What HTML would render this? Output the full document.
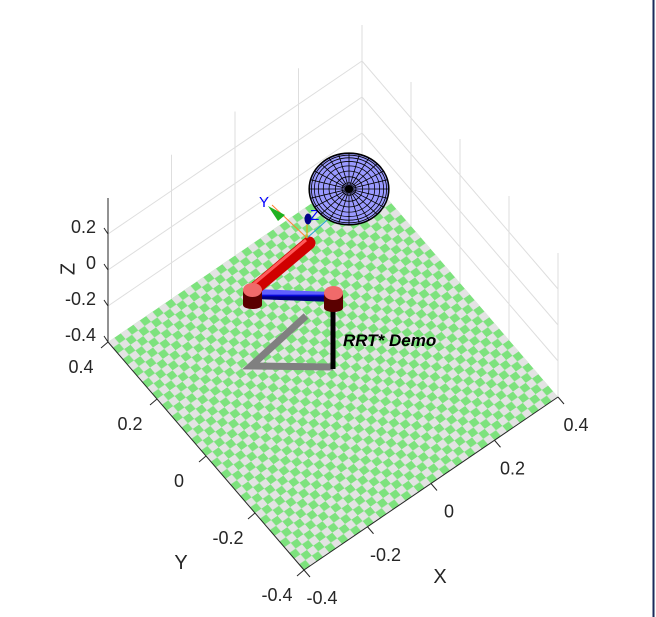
<!DOCTYPE html>
<html><head><meta charset="utf-8"><style>
html,body{margin:0;padding:0;background:#fff;}
svg{display:block;font-family:"Liberation Sans",Arial,sans-serif;}
</style></head><body>
<svg id="plot" width="656" height="617" viewBox="0 0 656 617" xmlns="http://www.w3.org/2000/svg">
<defs>
<pattern id="chk" patternUnits="userSpaceOnUse" width="0.05" height="0.05">
<rect width="0.05" height="0.05" fill="#e3e3e3"/>
<rect width="0.025" height="0.025" fill="#7de27d"/>
<rect x="0.025" y="0.025" width="0.025" height="0.025" fill="#7de27d"/>
</pattern>
<linearGradient id="blueg" x1="0" y1="0" x2="0" y2="1"><stop offset="0" stop-color="#6060ff"/><stop offset="0.5" stop-color="#0000e0"/><stop offset="1" stop-color="#000080"/></linearGradient>
</defs>
<g id="grid"></g>
<g id="floor" transform="matrix(254,-173,-196,-228,304,570)">
<rect x="0" y="0" width="1" height="1" fill="url(#chk)"/>
</g>
<g id="axes"></g>
<g>
<polyline points="306,316 251,366 333,367" fill="none" stroke="#808080" stroke-width="7" stroke-linejoin="miter"/>
<line x1="333" y1="300" x2="333" y2="369" stroke="#000" stroke-width="5"/>
<line x1="253" y1="294" x2="333" y2="297" stroke="url(#blueg)" stroke-width="10"/>
<line x1="252" y1="291" x2="309" y2="243" stroke="#d00000" stroke-width="13" stroke-linecap="round"/>
<line x1="250" y1="287" x2="306" y2="240" stroke="#ff5a5a" stroke-width="3"/>
<g>
<rect x="243" y="291" width="19" height="14" fill="#5a0000"/>
<ellipse cx="252.5" cy="305" rx="9.5" ry="4" fill="#5a0000"/>
<ellipse cx="252.5" cy="290" rx="9.5" ry="7" fill="#f06a6a"/>
</g>
<g>
<rect x="324" y="294" width="19" height="14" fill="#5a0000"/>
<ellipse cx="333.5" cy="308" rx="9.5" ry="4" fill="#5a0000"/>
<ellipse cx="333.5" cy="293" rx="9.5" ry="7" fill="#f06a6a"/>
</g>
<g>
<line x1="307" y1="238" x2="272" y2="205" stroke="#ff8030" stroke-width="1"/>
<line x1="307" y1="238" x2="344" y2="205" stroke="#20a0d0" stroke-width="1"/>
<line x1="307" y1="238" x2="307" y2="222" stroke="#f0a000" stroke-width="1"/>
<polygon points="268,206 285,215 278,221" fill="#20b020"/>
<polygon points="350,200 336,210 341,216" fill="#e00000"/>
<ellipse cx="308" cy="219" rx="3.5" ry="5.5" fill="#00008a"/>
<text x="259" y="207" fill="#0000ff" font-size="15">Y</text>
<text x="310" y="220" fill="#0000ff" font-size="15">Z</text>
</g>
</g>
<g id="sphere"></g>
<text x="343" y="346" font-size="17" font-weight="bold" font-style="italic" fill="#000">RRT* Demo</text>
<line x1="653.5" y1="0" x2="653.5" y2="617" stroke="#1a2a5a" stroke-width="2"/>
</svg>
<script>
const zTicks=[-0.4,-0.2,0,0.2];
const zTickLabels=["-0.4","-0.2","0","0.2"];
const xTicks=[-0.4,-0.2,0,0.2,0.4];
const xTickLabels=["-0.4","-0.2","0","0.2","0.4"];
const yTicks=[-0.4,-0.2,0,0.2,0.4];
const yTickLabels=["-0.4","-0.2","0","0.2","0.4"];
const gridVals=[-0.2,0,0.2];
const NS="http://www.w3.org/2000/svg";
function P(x,y,z){const u=(x+0.4)/0.8,v=(y+0.4)/0.8;return [304+254*u-196*v,570-173*u-228*v-(z+0.4)*180];}
function L(g,a,b,c,w,name){const l=document.createElementNS(NS,'line');l.setAttribute('x1',a[0]);l.setAttribute('y1',a[1]);l.setAttribute('x2',b[0]);l.setAttribute('y2',b[1]);l.setAttribute('stroke',c);l.setAttribute('stroke-width',w);


g.appendChild(l);}
function T(g,x,y,s,anchor,name,size){const t=document.createElementNS(NS,'text');t.setAttribute('x',x);t.setAttribute('y',y);t.setAttribute('font-size',size||18);t.setAttribute('fill','#262626');t.setAttribute('text-anchor',anchor);t.textContent=s;


g.appendChild(t);return t;}
const grid=document.getElementById('grid'),axes=document.getElementById('axes');
const gc='#dedede';
[-0.4,-0.2,0,0.2,0.4].forEach(v=>{L(grid,P(v,0.4,-0.4),P(v,0.4,0.4),gc,1,'grid-line');L(grid,P(0.4,v,-0.4),P(0.4,v,0.4),gc,1,'grid-line');});
gridVals.forEach(z=>{L(grid,P(-0.4,0.4,z),P(0.4,0.4,z),gc,1,'grid-line');L(grid,P(0.4,0.4,z),P(0.4,-0.4,z),gc,1,'grid-line');});
const ac='#262626';
L(axes,P(-0.4,0.4,-0.4),P(-0.4,0.4,0.4),ac,1,'z-axis-line');
zTicks.forEach((z,i)=>{const p=P(-0.4,0.4,z);L(axes,p,[p[0]-4,p[1]-6],ac,1,'z-tick');T(axes,p[0]-12,p[1]-1,zTickLabels[i],'end','z-tick-label');});
const zl=T(axes,69,269,'Z','middle','z-axis-title',20);zl.setAttribute('transform','rotate(-90 69 269)');zl.setAttribute('dominant-baseline','middle');
L(axes,P(-0.4,-0.4,-0.4),P(-0.4,0.4,-0.4),ac,1,'y-axis-line');
yTicks.forEach((y,i)=>{const p=P(-0.4,y,-0.4);L(axes,p,[p[0]-7,p[1]+6],ac,1,'y-tick');T(axes,p[0]-27,p[1]+31,yTickLabels[i],'middle','y-tick-label');});
T(axes,181,569,'Y','middle','y-axis-title',20);
L(axes,P(-0.4,-0.4,-0.4),P(0.4,-0.4,-0.4),ac,1,'x-axis-line');
xTicks.forEach((x,i)=>{const p=P(x,-0.4,-0.4);L(axes,p,[p[0]+6,p[1]+7],ac,1,'x-tick');T(axes,p[0]+18,p[1]+34,xTickLabels[i],'middle','x-tick-label');});
T(axes,440,583,'X','middle','x-axis-title',20);
const sph=document.getElementById('sphere');const cx=349,cy=189,rx=40,ry=36;
const e=document.createElementNS(NS,'ellipse');e.setAttribute('cx',cx);e.setAttribute('cy',cy);e.setAttribute('rx',rx);e.setAttribute('ry',ry);e.setAttribute('fill','#9a9aff');e.setAttribute('stroke','#000');e.setAttribute('stroke-width','1.2');


sph.appendChild(e);
for(let k=1;k<=8;k++){const f=Math.sin(k/9*Math.PI/2);const r=document.createElementNS(NS,'ellipse');r.setAttribute('cx',cx);r.setAttribute('cy',cy);r.setAttribute('rx',rx*f);r.setAttribute('ry',ry*f);r.setAttribute('fill','none');r.setAttribute('stroke','#000');r.setAttribute('stroke-width','0.8');


sph.appendChild(r);}
for(let k=0;k<24;k++){const a=k/24*2*Math.PI;L(sph,[cx,cy],[cx+rx*Math.cos(a),cy+ry*Math.sin(a)],'#000',0.8,'sphere-mesh-meridian');}
const d=document.createElementNS(NS,'circle');d.setAttribute('cx',cx);d.setAttribute('cy',cy);d.setAttribute('r',4);d.setAttribute('fill','#000');


sph.appendChild(d);
</script>
</body></html>
